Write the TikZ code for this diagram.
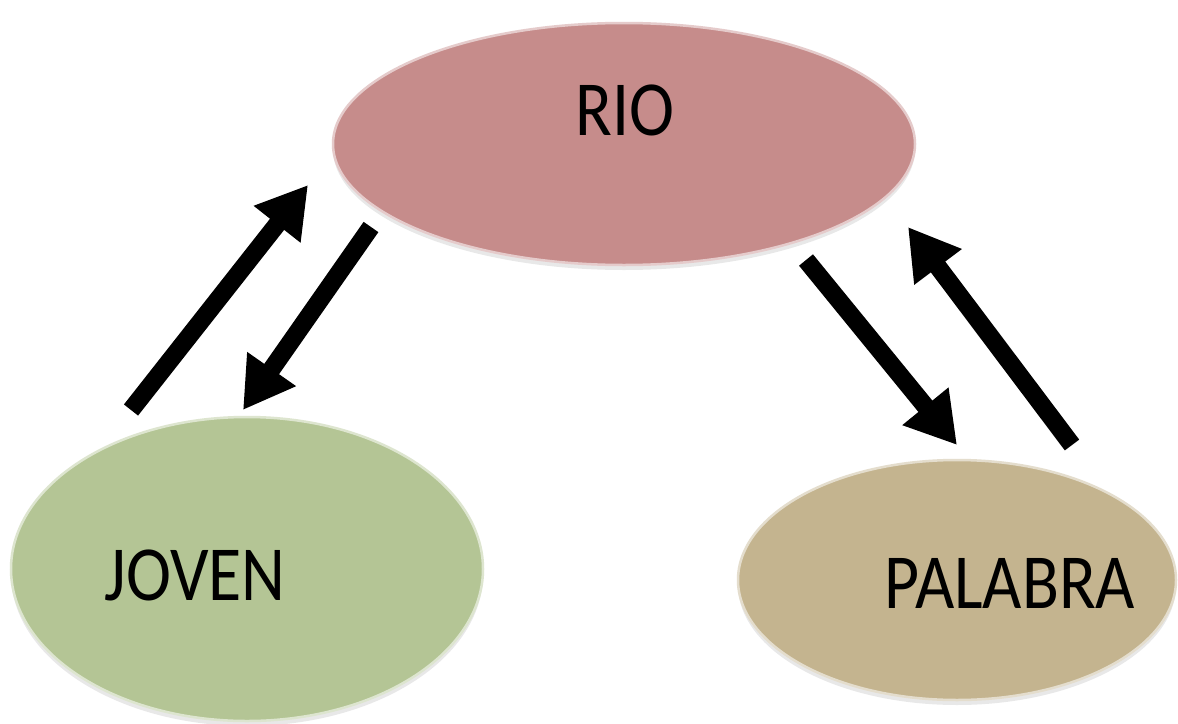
\documentclass[tikz,border=0pt]{standalone}
\usepackage{fontspec}
\setmainfont{Carlito}
\usetikzlibrary{shapes.geometric,arrows.meta,shadows}
\definecolor{riofill}{RGB}{198,140,139}
\definecolor{jovenfill}{RGB}{180,197,149}
\definecolor{palabrafill}{RGB}{196,180,143}
\begin{document}
\begin{tikzpicture}[x=1pt,y=-1pt,
  bubble/.style={ellipse, inner sep=0pt, draw=#1!45!white, line width=2.5pt, fill=#1,
    drop shadow={opacity=0.18, shadow xshift=0pt, shadow yshift=-5pt}},
  word/.style={font=\fontsize{78}{80}\selectfont, anchor=base, text=black, inner sep=0pt},
  link/.style={line width=18pt, line cap=butt, -{Triangle[width=56pt,length=50pt]}}]
\useasboundingbox[fill=white] (0,0) rectangle (1178,723);

\node[bubble=riofill, minimum width=582pt, minimum height=242pt] (rio) at (624,144) {};
\node[bubble=jovenfill, minimum width=472pt, minimum height=304pt] (joven) at (247,569) {};
\node[bubble=palabrafill, minimum width=438pt, minimum height=240pt] (palabra) at (957,580) {};

\node[word] (riotext) at (625,135) {\scalebox{0.87}[1]{RIO}};
\node[word] (joventext) at (195,600) {\scalebox{0.87}[1]{JOVEN}};
\node[word] (palabratext) at (1010,608) {\scalebox{0.87}[1]{PALABRA}};

\coordinate (jovenout) at (131,410);
\coordinate (rioinL) at (308,185);
\coordinate (rioutL) at (371,227);
\coordinate (jovenin) at (243,410);
\coordinate (rioutR) at (806,260);
\coordinate (palabrain) at (957,445);
\coordinate (palabraout) at (1072,445);
\coordinate (rioinR) at (908,227);

\draw[link] (jovenout) -- (rioinL);
\draw[link] (rioutL) -- (jovenin);
\draw[link] (rioutR) -- (palabrain);
\draw[link] (palabraout) -- (rioinR);
\end{tikzpicture}
\end{document}
